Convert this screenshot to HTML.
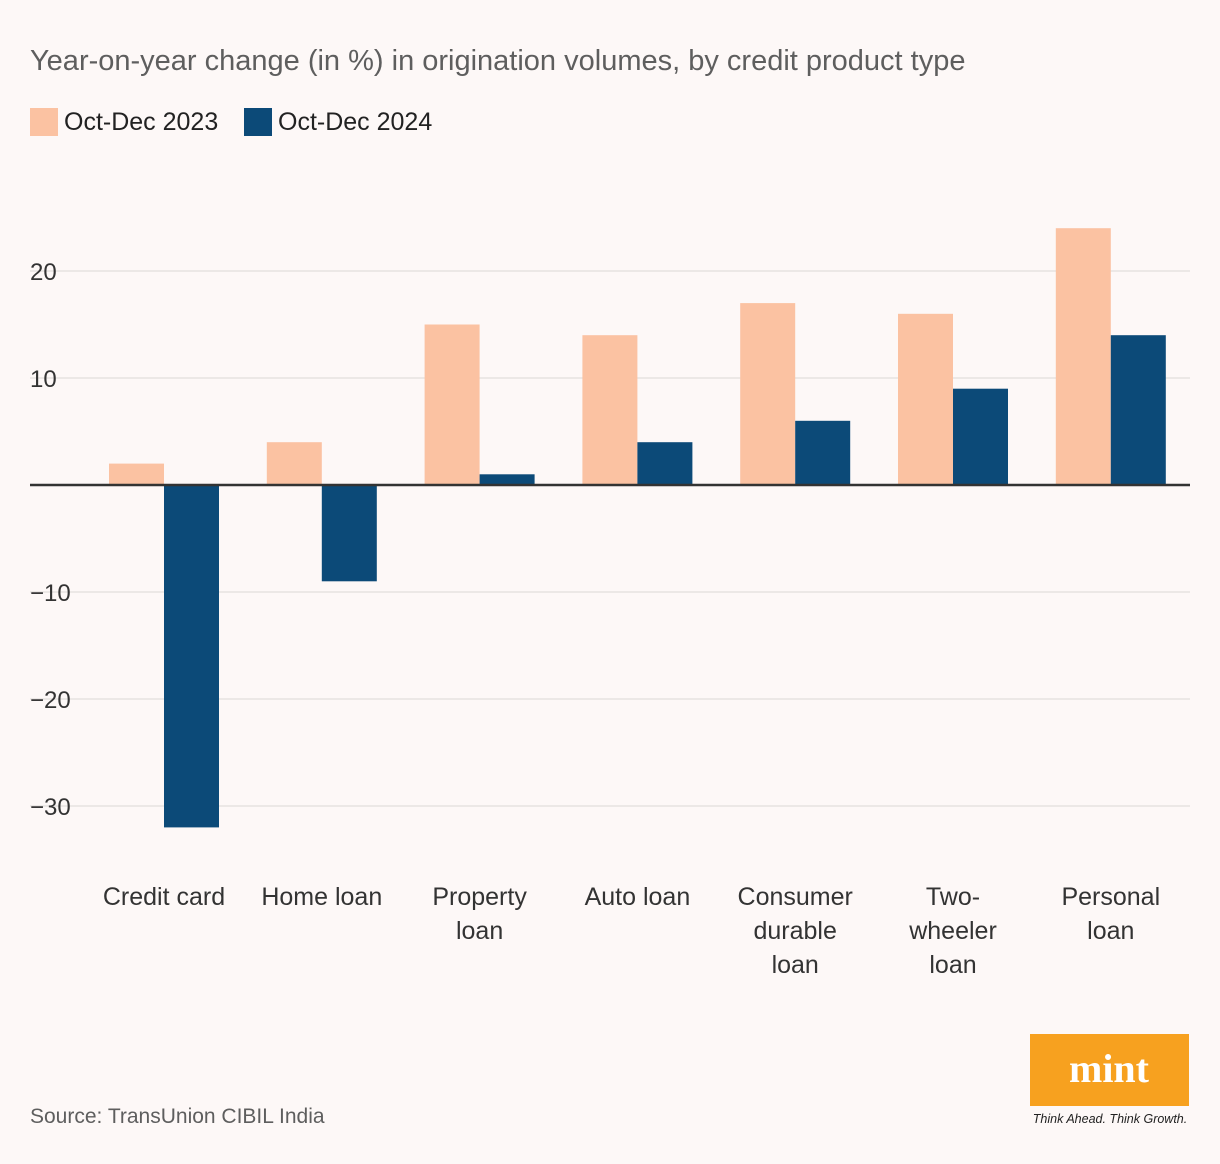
<!DOCTYPE html>
<html><head><meta charset="utf-8"><style>
html,body{margin:0;padding:0;background:#fdf8f7;}
body{width:1220px;height:1164px;position:relative;font-family:"Liberation Sans",sans-serif;overflow:hidden}
</style></head><body>
<svg id="chart" width="1220" height="1164" xmlns="http://www.w3.org/2000/svg" style="position:absolute;left:0;top:0;font-family:'Liberation Sans',sans-serif">
<text x="30" y="70" font-size="29" fill="#5e5e5e">Year-on-year change (in %) in origination volumes, by credit product type</text>
<g>
<rect x="30" y="108" width="28" height="28" fill="#fbc2a2"/>
<text x="64" y="130" font-size="25" fill="#222">Oct-Dec 2023</text>
<rect x="244" y="108" width="28" height="28" fill="#0c4a78"/>
<text x="278" y="130" font-size="25" fill="#222">Oct-Dec 2024</text>
</g>
<g id="grid"></g><g id="bars"></g><g id="xlabels"></g>
<text x="30" y="1123" font-size="21" fill="#5e5e5e">Source: TransUnion CIBIL India</text>
<g>
<rect x="1030" y="1034" width="159" height="72" fill="#f7a11f"/>
<text x="1109" y="1082" font-size="40" font-weight="bold" fill="#fff" text-anchor="middle" font-family="'Liberation Serif',serif">mint</text>
<text x="1110" y="1123" font-size="12.5" font-style="italic" fill="#222" text-anchor="middle">Think Ahead. Think Growth.</text>
</g>
</svg>
<script>
const categories=[["Credit card"],["Home loan"],["Property","loan"],["Auto loan"],["Consumer","durable","loan"],["Two-","wheeler","loan"],["Personal","loan"]];
const values2023=[2,4,15,14,17,16,24];
const values2024=[-32,-9,1,4,6,9,14];
const ticks=[20,10,0,-10,-20,-30];
const tickLabels=["20","10","","\u221210","\u221220","\u221230"];
const NS="http://www.w3.org/2000/svg";
const y=v=>485-v*10.7;
const x0=i=>109+i*157.8;
const bw=55;
function mk(t,a,p){const e=document.createElementNS(NS,t);for(const k in a)e.setAttribute(k,a[k]);p.appendChild(e);return e;}
const grid=document.getElementById('grid');
ticks.forEach((t,i)=>{
 if(t!==0){const l=mk('line',{x1:30,x2:1190,y1:y(t),y2:y(t),stroke:'#e2dddc','stroke-width':1.2},grid);
 
 }
 const tx=mk('text',{x:30,y:y(t)+9,'font-size':24,fill:'#333'},grid);tx.textContent=tickLabels[i];
 
 
});
const bars=document.getElementById('bars');
categories.forEach((c,i)=>{
 [[values2023,'#fbc2a2',0],[values2024,'#0c4a78',bw]].forEach(([arr,col,off])=>{
  const v=arr[i];const r=mk('rect',{x:x0(i)+off,y:Math.min(y(v),y(0)),width:bw,height:Math.abs(y(v)-y(0)),fill:col},bars);
  
  
 });
 const t=mk('text',{'font-size':25,fill:'#333','text-anchor':'middle'},document.getElementById('xlabels'));
 
 
 c.forEach((s,j)=>{const ts=mk('tspan',{x:x0(i)+bw,y:905+j*34},t);ts.textContent=s;});
});
const zl=mk('line',{x1:30,x2:1190,y1:y(0),y2:y(0),stroke:'#333','stroke-width':2.5},bars);


</script>
</body></html>
